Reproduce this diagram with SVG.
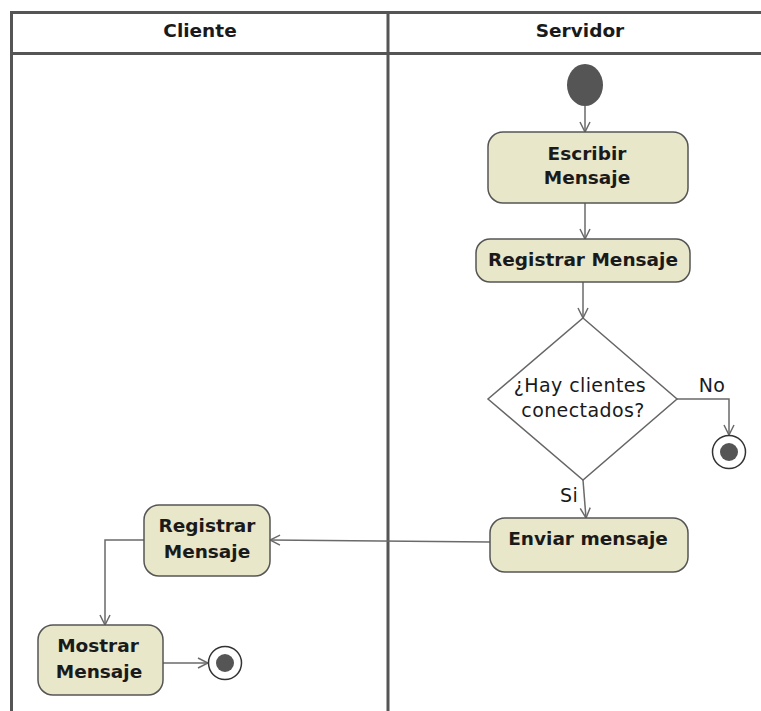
<svg xmlns="http://www.w3.org/2000/svg" width="761" height="711" viewBox="0 0 761 711">
<defs>
<style>
.lane{fill:none;stroke:#555;stroke-width:3}
.act{fill:#e8e7ca;stroke:#555;stroke-width:1.5}
.lbl{font-family:"DejaVu Sans",sans-serif;font-weight:bold;font-size:18.5px;fill:#1a1a1a;text-anchor:middle}
.txt{font-family:"DejaVu Sans",sans-serif;font-size:19px;fill:#1a1a1a;text-anchor:middle;letter-spacing:0.4px}
.edge{fill:none;stroke:#6a6a6a;stroke-width:1.5}
.dec{fill:#fff;stroke:#666;stroke-width:1.5}
.endo{fill:#fff;stroke:#333;stroke-width:1.5}
.dot{fill:#555}
</style>
<marker id="arr" viewBox="0 0 12 12" refX="11" refY="6" markerWidth="12" markerHeight="12" markerUnits="userSpaceOnUse" orient="auto">
<path d="M1,1 L11,6 L1,11" fill="none" stroke="#6a6a6a" stroke-width="1.5"/>
</marker>
</defs>
<rect width="761" height="711" fill="#fff"/>
<g id="swimlanes">
<path class="lane" d="M11.5,711 V12.5 H761 M11.5,53.5 H761 M388,12.5 V711"/>
<text class="lbl" x="200" y="37">Cliente</text>
<text class="lbl" x="580" y="37">Servidor</text>
</g>
<g id="connectors">
<path class="edge" d="M585,106 V132" marker-end="url(#arr)"/>
<path class="edge" d="M585,203 V239" marker-end="url(#arr)"/>
<path class="edge" d="M583,282 V318" marker-end="url(#arr)"/>
<path class="edge" d="M677,399 H729 V435" marker-end="url(#arr)"/>
<path class="edge" d="M583,480 L586,518" marker-end="url(#arr)"/>
<path class="edge" d="M490,542 L270,540" marker-end="url(#arr)"/>
<path class="edge" d="M144,540 H105 V625" marker-end="url(#arr)"/>
<path class="edge" d="M163,663 H208" marker-end="url(#arr)"/>
<text class="txt" x="712" y="392">No</text>
<text class="txt" x="569" y="502">Si</text>
</g>
<g id="start">
<ellipse class="dot" cx="585" cy="85" rx="18" ry="21"/>
</g>
<g id="escribir">
<rect class="act" x="488" y="132" width="200" height="71" rx="15"/>
<text class="lbl" x="587" y="160">Escribir</text>
<text class="lbl" x="587" y="184">Mensaje</text>
</g>
<g id="registrar-servidor">
<rect class="act" x="476" y="239" width="214" height="43" rx="14"/>
<text class="lbl" x="583" y="266">Registrar Mensaje</text>
</g>
<g id="decision">
<polygon class="dec" points="583,318 677,399 583,480 488,399"/>
<text class="txt" x="580" y="392">¿Hay clientes</text>
<text class="txt" x="583" y="417">conectados?</text>
</g>
<g id="end-no">
<circle class="endo" cx="729" cy="452" r="16.5"/>
<circle class="dot" cx="729" cy="452" r="9"/>
</g>
<g id="enviar">
<rect class="act" x="490" y="518" width="198" height="54" rx="15"/>
<text class="lbl" x="588" y="545">Enviar mensaje</text>
</g>
<g id="registrar-cliente">
<rect class="act" x="144" y="505" width="126" height="71" rx="15"/>
<text class="lbl" x="207" y="532">Registrar</text>
<text class="lbl" x="207" y="558">Mensaje</text>
</g>
<g id="mostrar">
<rect class="act" x="38" y="625" width="125" height="70" rx="15"/>
<text class="lbl" x="98" y="652">Mostrar</text>
<text class="lbl" x="99" y="678">Mensaje</text>
</g>
<g id="end-cliente">
<circle class="endo" cx="225" cy="663" r="16.5"/>
<circle class="dot" cx="225" cy="663" r="9"/>
</g>
</svg>
